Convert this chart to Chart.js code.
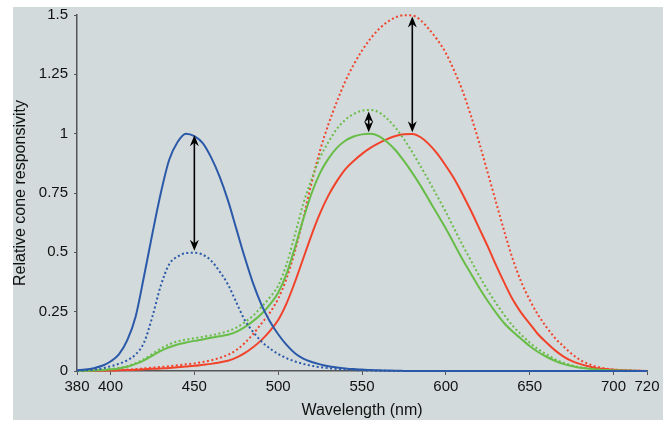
<!DOCTYPE html>
<html><head><meta charset="utf-8">
<script src="https://cdn.jsdelivr.net/npm/chart.js@4.4.1/dist/chart.umd.min.js"></script>
<style>html,body{margin:0;padding:0;background:#fff;}canvas{display:block;}</style>
</head><body>
<canvas id="c" width="671" height="428"></canvas>
<script>
const wavelengths = [380,385,390,395,400,405,410,415,420,425,430,435,440,445,450,455,460,465,470,475,480,485,490,495,500,505,510,515,520,525,530,535,540,545,550,555,560,565,570,575,580,585,590,595,600,605,610,615,620,625,630,635,640,645,650,655,660,665,670,675,680,685,690,695,700,705,710,715,720];
const blueSolid  = [0.003,0.006,0.012,0.022,0.04,0.07,0.13,0.23,0.4,0.58,0.75,0.89,0.965,1.0,0.99,0.96,0.9,0.82,0.72,0.6,0.48,0.37,0.28,0.21,0.155,0.11,0.075,0.052,0.038,0.028,0.02,0.015,0.011,0.008,0.006,0.004,0.003,0.002,0.001,0.0005,0,0,0,0,0,0,0,0,0,0,0,0,0,0,0,0,0,0,0,0,0,0,0,0,0,0,0,0,0];
const blueDotted = [0.001,0.003,0.006,0.011,0.02,0.03,0.045,0.07,0.12,0.23,0.36,0.45,0.482,0.497,0.498,0.49,0.465,0.42,0.365,0.29,0.215,0.165,0.125,0.095,0.072,0.054,0.04,0.03,0.022,0.016,0.012,0.008,0.006,0.004,0.003,0.002,0.001,0.0005,0,0,0,0,0,0,0,0,0,0,0,0,0,0,0,0,0,0,0,0,0,0,0,0,0,0,0,0,0,0,0];
const greenSolid = [0,0.001,0.002,0.004,0.007,0.011,0.018,0.03,0.045,0.065,0.085,0.1,0.112,0.12,0.127,0.133,0.14,0.146,0.153,0.165,0.185,0.21,0.24,0.28,0.33,0.41,0.52,0.64,0.75,0.835,0.895,0.94,0.97,0.988,0.997,1.0,0.99,0.965,0.93,0.885,0.835,0.78,0.72,0.66,0.6,0.535,0.47,0.41,0.35,0.295,0.245,0.2,0.165,0.135,0.105,0.08,0.06,0.043,0.03,0.021,0.014,0.01,0.006,0.004,0.002,0.0015,0.001,0.0005,0];
const greenDotted= [0,0.001,0.002,0.005,0.008,0.013,0.02,0.033,0.05,0.072,0.095,0.112,0.125,0.132,0.138,0.144,0.15,0.158,0.168,0.183,0.205,0.233,0.27,0.31,0.36,0.45,0.575,0.705,0.81,0.9,0.965,1.02,1.058,1.083,1.097,1.1,1.09,1.063,1.025,0.977,0.922,0.862,0.8,0.735,0.67,0.6,0.53,0.465,0.4,0.34,0.285,0.235,0.19,0.153,0.12,0.092,0.07,0.05,0.035,0.024,0.016,0.011,0.007,0.004,0.003,0.002,0.001,0.0005,0];
const redSolid   = [0,0.001,0.001,0.002,0.002,0.003,0.004,0.005,0.007,0.009,0.011,0.013,0.016,0.019,0.022,0.026,0.03,0.036,0.043,0.056,0.075,0.1,0.13,0.168,0.215,0.285,0.375,0.475,0.575,0.665,0.74,0.8,0.85,0.885,0.915,0.94,0.96,0.977,0.99,0.998,0.999,0.985,0.955,0.915,0.865,0.81,0.745,0.675,0.6,0.525,0.445,0.37,0.3,0.245,0.2,0.155,0.12,0.088,0.062,0.043,0.03,0.02,0.012,0.008,0.005,0.003,0.002,0.001,0];
const redDotted  = [0,0.001,0.001,0.002,0.003,0.004,0.006,0.008,0.011,0.014,0.017,0.02,0.024,0.028,0.032,0.038,0.045,0.055,0.068,0.088,0.118,0.155,0.2,0.245,0.305,0.39,0.505,0.645,0.795,0.93,1.04,1.135,1.22,1.29,1.35,1.4,1.44,1.47,1.49,1.499,1.498,1.478,1.44,1.395,1.34,1.265,1.18,1.075,0.96,0.835,0.71,0.585,0.47,0.375,0.3,0.237,0.185,0.14,0.105,0.073,0.047,0.03,0.018,0.011,0.006,0.004,0.002,0.001,0];
const xTicks = [380,400,450,500,550,600,650,700,720];
const yTicks = [0,0.25,0.5,0.75,1,1.25,1.5];
const arrowX = [450,554,580];
const arrowTop = [1.0,1.1,1.5];
const arrowBottom = [0.5,1.0,1.0];

const BLUE='#2b59a9', GREEN='#68bd48', RED='#f1432b';
const FAM='"Liberation Sans", Arial, Helvetica, sans-serif';
const TICKFONT={family:FAM, size:15};
const TITLEFONT={family:FAM, size:16};
const TXT='#111';

function pts(v){ return wavelengths.map((w,i)=>({x:w,y:v[i]})); }
function ds(label, v, color, dotted){
  return {label, data:pts(v), borderColor:color, backgroundColor:color, borderWidth:2,
    borderDash: dotted?[2,2.5]:[], pointRadius:0, cubicInterpolationMode:'monotone', fill:false, clip:false};
}

const panelPlugin={id:'panel',beforeDraw(chart){const c=chart.ctx;c.save();c.fillStyle='#d3dadb';c.fillRect(13,7,650,413);c.restore();}};

function head(ctx,x,y,dir){
  ctx.beginPath();
  ctx.moveTo(x,y);
  ctx.lineTo(x-4.5,y-dir*11);
  ctx.lineTo(x,y-dir*7.5);
  ctx.lineTo(x+4.5,y-dir*11);
  ctx.closePath();
  ctx.fill();
}
const arrowPlugin={id:'arrows',afterDatasetsDraw(chart){
  const c=chart.ctx, xs=chart.scales.x, ys=chart.scales.y;
  c.save(); c.strokeStyle='#000'; c.fillStyle='#000'; c.lineWidth=1.6;
  for(let i=0;i<arrowX.length;i++){
    const x=xs.getPixelForValue(arrowX[i]);
    const y1=ys.getPixelForValue(arrowTop[i])+1.5, y2=ys.getPixelForValue(arrowBottom[i])-1.5;
    c.beginPath(); c.moveTo(x,y1+6); c.lineTo(x,y2-6); c.stroke();
    head(c,x,y1,-1); head(c,x,y2,1);
  }
  c.restore();
}};

new Chart(document.getElementById('c'),{
  type:'line',
  data:{datasets:[
    ds('S',blueSolid,BLUE,false), ds('S*',blueDotted,BLUE,true),
    ds('M',greenSolid,GREEN,false), ds('M*',greenDotted,GREEN,true),
    ds('L',redSolid,RED,false), ds('L*',redDotted,RED,true)
  ]},
  options:{
    responsive:false, animation:false, devicePixelRatio:1,
    layout:{padding:{left:0,right:24,top:15,bottom:0}},
    plugins:{legend:{display:false},tooltip:{enabled:false}},
    scales:{
      x:{type:'linear',min:380,max:720,
        afterBuildTicks:s=>{s.ticks=xTicks.map(v=>({value:v}));},
        afterFit:s=>{s.height=57;},
        ticks:{autoSkip:false,maxRotation:0,font:TICKFONT,color:TXT,padding:3,callback:v=>String(v)},
        grid:{drawOnChartArea:false,drawTicks:true,tickLength:4,color:'#555',lineWidth:1},
        border:{color:'#555',width:1.5},
        title:{display:true,text:'Wavelength (nm)',font:TITLEFONT,color:TXT,padding:{top:2,bottom:8}}},
      y:{type:'linear',min:0,max:1.5,
        afterBuildTicks:s=>{s.ticks=yTicks.map(v=>({value:v}));},
        afterFit:s=>{s.width=77;},
        ticks:{font:TICKFONT,color:TXT,padding:6,callback:v=>String(v)},
        grid:{drawOnChartArea:false,drawTicks:true,tickLength:3,color:'#555',lineWidth:1},
        border:{color:'#555',width:1.5},
        title:{display:true,text:'Relative cone responsivity',font:TITLEFONT,color:TXT,padding:{top:11,bottom:0}}}
    }
  },
  plugins:[panelPlugin,arrowPlugin]
});
</script></body></html>
